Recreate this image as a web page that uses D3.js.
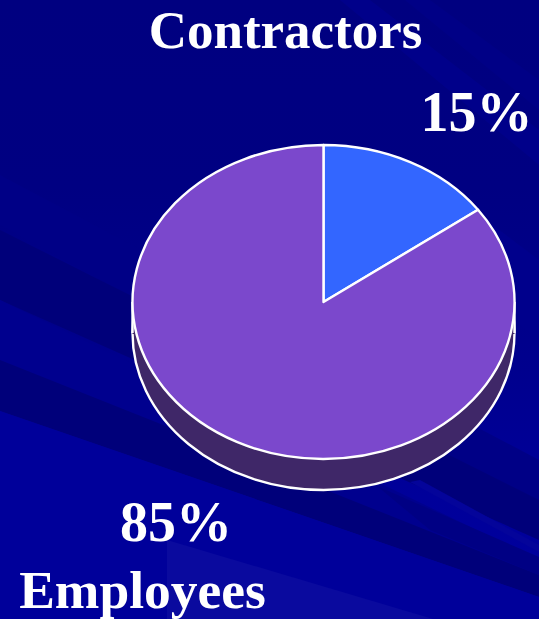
<!DOCTYPE html>
<html><head><meta charset="utf-8">
<script src="https://cdn.jsdelivr.net/npm/d3@7"></script>
<style>html,body{margin:0;padding:0;background:#000080}svg{display:block}</style>
</head><body><div id="c"></div>
<script>
const categories = ["Contractors", "Employees"];
const values = [15, 85];
const labels = ["15%", "85%"];
const colors = ["#3366ff", "#7b48cc"];
const sideColor = "#3f2768";
const W = 539, H = 619;
const cx = 323.5, cy = 302, rx = 191, ry = 157, depth = 31;

const svg = d3.select("#c").append("svg").attr("width", W).attr("height", H);
const defs = svg.append("defs");
const g = defs.append("linearGradient").attr("id","bg").attr("x1",0).attr("y1",0).attr("x2",0).attr("y2",1);
[[0,"#000080"],[0.3,"#000082"],[0.6,"#00008e"],[0.8,"#00009a"],[1,"#00009e"]].forEach(s=>g.append("stop").attr("offset",s[0]).attr("stop-color",s[1]));
svg.append("rect").attr("width",W).attr("height",H).attr("fill","url(#bg)");

// decorative background rays
const bands = [
  {p:[[0,175],[539,460],[539,520],[0,225]], f:"#000086"},
  {p:[[0,230],[539,500],[539,540],[0,300]], f:"#00007a"},
  {p:[[0,300],[539,560],[539,590],[0,360]], f:"#00008e"},
  {p:[[0,360],[539,575],[539,597],[0,411]], f:"#00007a"},
  {p:[[377,486],[539,557],[539,575],[430,530]], f:"#000084"},
  {p:[[0,411],[539,597],[539,640],[0,640]], f:"#00009a"},
  {p:[[167,540],[433,619],[167,619]], f:"#0a0a9e"},
  {p:[[370,0],[539,130],[539,165],[340,0]], f:"#00008a"},
  {p:[[430,0],[539,80],[539,110],[405,0]], f:"#000086"},
  {p:[[420,170],[539,260],[539,340],[500,310]], f:"#00008c"},
  {p:[[420,480],[539,545],[539,552],[410,482]], f:"#04049a"}
];
svg.append("g").selectAll("polygon").data(bands).join("polygon")
  .attr("points", d=>d.p.map(q=>q.join(",")).join(" ")).attr("fill", d=>d.f);

const yScale = ry / rx;
const arc = d3.arc().innerRadius(0).outerRadius(rx);
const pie = d3.pie().sort(null).value(d=>d)(values);

// side wall
svg.append("path")
  .attr("d", arc({startAngle:0,endAngle:2*Math.PI}))
  .attr("transform",`translate(${cx},${cy+depth}) scale(1,${yScale})`)
  .attr("fill",sideColor).attr("stroke","#fff").attr("stroke-width",2.4)
  .attr("vector-effect","non-scaling-stroke");
svg.append("rect").attr("x",cx-rx).attr("y",cy).attr("width",2*rx).attr("height",depth+1)
  .attr("fill",sideColor);
svg.append("path").attr("d",`M${cx-rx},${cy}V${cy+depth}M${cx+rx},${cy}V${cy+depth}`)
  .attr("stroke","#fff").attr("stroke-width",2.4).attr("fill","none");

// top face
svg.append("g").attr("transform",`translate(${cx},${cy}) scale(1,${yScale})`)
  .selectAll("path").data(pie).join("path")
  .attr("d",arc).attr("fill",(d,i)=>colors[i])
  .attr("stroke","#fff").attr("stroke-width",2.4).attr("stroke-linejoin","round")
  .attr("vector-effect","non-scaling-stroke");

// text
const font = "'Liberation Serif','Times New Roman',serif";
const texts = [
  {t:categories[0], x:285.5, y:48, s:53},
  {t:labels[0], x:476.5, y:131, s:56},
  {t:labels[1], x:176, y:541, s:56},
  {t:categories[1], x:142.5, y:608, s:53.5}
];
svg.append("g").selectAll("text").data(texts).join("text")
  .attr("x",d=>d.x).attr("y",d=>d.y).attr("text-anchor","middle")
  .attr("font-family",font).attr("font-weight","bold").attr("font-size",d=>d.s)
  .attr("fill","#fff").text(d=>d.t);
</script></body></html>
